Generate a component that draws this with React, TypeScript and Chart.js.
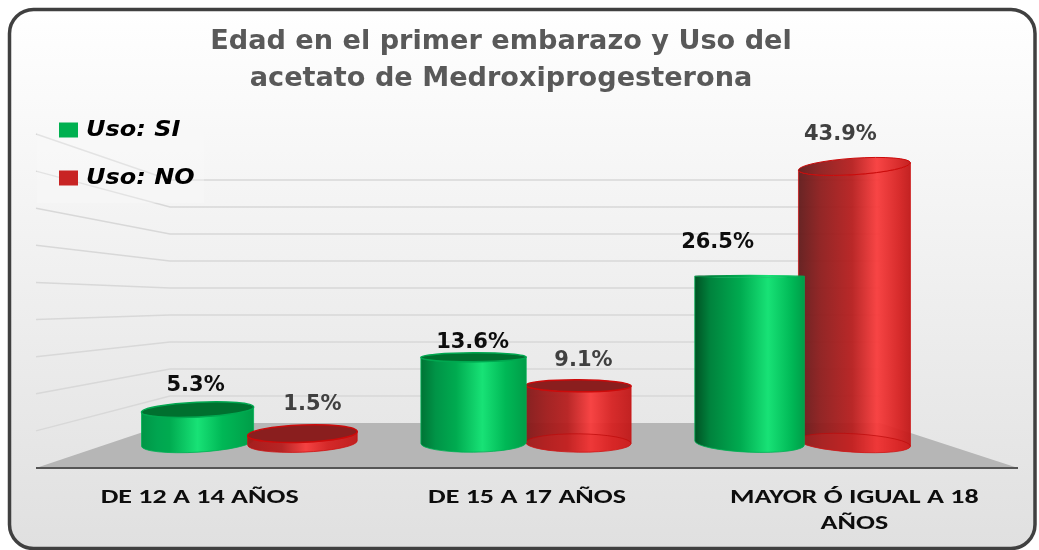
import React, { useEffect, useRef } from "react";
import { Chart, registerables } from "chart.js";

Chart.register(...registerables);

const categories: (string | string[])[] = ["DE 12 A 14 AÑOS", "DE 15 A 17 AÑOS", ["MAYOR Ó IGUAL A 18", "AÑOS"]];
const usoSi = [5.3, 13.6, 26.5];
const usoNo = [1.5, 9.1, 43.9];
const seriesNames = ["Uso: SI", "Uso: NO"];
const seriesColors = ["#00b050", "#c82424"];
const yTicksMax = 45;
const yTickStep = 5;
const titleLines = ["Edad en el primer embarazo y Uso del", "acetato de Medroxiprogesterona"];
// label nudges [dx, dy above bar top]; per dataset and category
const labelNudgeSi = [[-2, 25], [-1, 16], [-32, 35]];
const labelNudgeNo = [[10, 30], [5, 26], [-14, 33]];

const W = 1039, H = 550;
const BACK_BASE = 423, FRONT_BASE = 468, BACK_L = 170, BACK_R = 880, FRONT_L = 36, FRONT_R = 1018;
const EYE = 276;

function mix(a: number[], b: number[], t: number, alpha: number) {
  const c = a.map((v, i) => Math.round(v + (b[i] - v) * t));
  return `rgba(${c[0]},${c[1]},${c[2]},${alpha})`;
}

function gradientFor(ctx: CanvasRenderingContext2D, l: number, r: number, kind: number, t: number) {
  const g = ctx.createLinearGradient(l, 0, r, 0);
  const h = 0.5 + 0.2 * t;
  if (kind === 0) {
    g.addColorStop(0, mix([0, 150, 70], [0, 70, 30], t, 1));
    g.addColorStop(0.14, mix([0, 165, 80], [0, 125, 58], t, 1));
    g.addColorStop(h - 0.25, "#00ab50");
    g.addColorStop(h, "#18e276");
    g.addColorStop(h + 0.22, "#00b856");
    g.addColorStop(1, "#009d48");
  } else {
    g.addColorStop(0, mix([176, 24, 24], [98, 28, 28], t, 0.96));
    g.addColorStop(0.2, mix([186, 24, 24], [142, 28, 28], t, 0.95));
    g.addColorStop(h - 0.22, "rgba(182,28,28,0.94)");
    g.addColorStop(h, "rgba(248,58,58,0.94)");
    g.addColorStop(Math.min(0.95, h + 0.2), "rgba(214,32,32,0.94)");
    g.addColorStop(1, "rgba(192,26,26,0.96)");
  }
  return g;
}

function drawCylinder(ctx: CanvasRenderingContext2D, cx: number, topY: number, baseY: number, halfW: number, kind: number, chartCx: number, t: number) {
  const rx = halfW;
  const ryOf = (y: number) => Math.max(1.2, (y < EYE ? 0.075 : 0.055) * Math.abs(y - EYE));
  const tilt = (y: number) => ((cx - chartCx) * (y - EYE) / 36000) * (y < EYE ? 3.8 : 2.2) * Math.PI / 180;
  const ryT = ryOf(topY), ryB = ryOf(baseY);
  const aT = tilt(topY), aB = tilt(baseY);
  const edge = kind === 0 ? "#00a850" : "#cc0a0a";
  const fill = gradientFor(ctx, cx - rx, cx + rx, kind, t);

  ctx.save();
  ctx.beginPath();
  ctx.ellipse(cx, topY, rx, ryT, aT, Math.PI, 0, true);
  ctx.ellipse(cx, baseY, rx, ryB, aB, 0, Math.PI, false);
  ctx.closePath();
  ctx.fillStyle = fill;
  ctx.fill();
  ctx.lineWidth = 1;
  ctx.strokeStyle = kind === 0 ? "rgba(0,176,84,0.8)" : "rgba(204,16,16,0.75)";
  ctx.stroke();
  // translucent red cylinders show the base disc through the body
  if (kind === 1 && topY < baseY - 30) {
    ctx.beginPath();
    ctx.ellipse(cx, baseY, rx, ryB, aB, 0, Math.PI * 2);
    ctx.fillStyle = "rgba(225,36,36,0.3)";
    ctx.fill();
    ctx.beginPath();
    ctx.ellipse(cx, baseY, rx, ryB, aB, Math.PI, 0, false);
    ctx.strokeStyle = "rgba(190,10,10,0.7)";
    ctx.stroke();
  }
  // top face
  ctx.beginPath();
  ctx.ellipse(cx, topY, rx, ryT, aT, 0, Math.PI * 2);
  if (kind === 0) {
    ctx.fillStyle = topY > EYE + 10 ? "#00702f" : fill;
  } else {
    ctx.fillStyle = topY > EYE ? "#8a1e1e" : fill;
  }
  ctx.fill();
  ctx.strokeStyle = edge;
  ctx.lineWidth = topY > EYE ? 1.5 : 1;
  if (topY > EYE + 10 || kind === 1) ctx.stroke();
  ctx.restore();
}

function stretchedText(ctx: CanvasRenderingContext2D, text: string, x: number, y: number, sx: number) {
  ctx.save();
  ctx.translate(x, y);
  ctx.scale(sx, 1);
  ctx.fillText(text, 0, 0);
  ctx.restore();
}

const scene3d = {
  id: "scene3d",
  beforeDraw(chart: any) {
    const ctx: CanvasRenderingContext2D = chart.ctx;
    ctx.save();
    ctx.fillStyle = "#ffffff";
    ctx.fillRect(0, 0, W, H);
    const g = ctx.createLinearGradient(0, 10, 0, 548);
    g.addColorStop(0, "#ffffff");
    g.addColorStop(1, "#e0e0e0");
    ctx.beginPath();
    ctx.roundRect(9.5, 9.5, 1025.5, 539, 24);
    ctx.fillStyle = g;
    ctx.fill();
    ctx.lineWidth = 3.5;
    ctx.strokeStyle = "#404040";
    ctx.stroke();
    ctx.restore();
  },
  beforeDatasetsDraw(chart: any) {
    const ctx: CanvasRenderingContext2D = chart.ctx;
    const y = chart.scales.y;
    const base = y.getPixelForValue(0);
    const span = base - y.getPixelForValue(yTicksMax);
    const backK = (45 * 5.4) / span;
    const sideK = (FRONT_BASE - 134) / span;
    ctx.save();
    // floor
    ctx.beginPath();
    ctx.moveTo(FRONT_L, FRONT_BASE);
    ctx.lineTo(BACK_L, BACK_BASE);
    ctx.lineTo(BACK_R, BACK_BASE);
    ctx.lineTo(FRONT_R, FRONT_BASE);
    ctx.closePath();
    ctx.fillStyle = "#b6b6b6";
    ctx.fill();
    // front edge
    ctx.beginPath();
    ctx.moveTo(FRONT_L, FRONT_BASE);
    ctx.lineTo(FRONT_R, FRONT_BASE);
    ctx.strokeStyle = "#555555";
    ctx.lineWidth = 2;
    ctx.stroke();
    // walls
    ctx.strokeStyle = "#d8d8d8";
    ctx.lineWidth = 1.5;
    for (const t of y.ticks) {
      if (t.value === 0) continue;
      const p = base - y.getPixelForValue(t.value);
      const by = BACK_BASE - p * backK;
      const fy = FRONT_BASE - p * sideK;
      ctx.beginPath();
      ctx.moveTo(FRONT_L, fy);
      ctx.lineTo(BACK_L, by);
      ctx.lineTo(BACK_R, by);
      ctx.stroke();
    }
    ctx.restore();
  },
  beforeDatasetDraw() {
    return false;
  },
  afterDatasetsDraw(chart: any) {
    const ctx: CanvasRenderingContext2D = chart.ctx;
    const area = chart.chartArea;
    const chartCx = (area.left + area.right) / 2;
    const bars: any[] = [];
    chart.data.datasets.forEach((ds: any, di: number) => {
      chart.getDatasetMeta(di).data.forEach((el: any, i: number) => {
        bars.push({ el, di, i, value: ds.data[i], dist: Math.abs(el.x - chartCx) });
      });
    });
    bars.sort((a, b) => b.dist - a.dist);
    for (const b of bars) {
      const halfW = (104 + 0.025 * b.dist) / 2;
      const t = Math.max(0, Math.min(1, (b.el.x - 199) / 654));
      drawCylinder(ctx, b.el.x, b.el.y, b.el.base, halfW, b.di, chartCx, t);
    }
    // value labels
    ctx.save();
    ctx.textAlign = "center";
    ctx.textBaseline = "middle";
    ctx.font = "bold 21px 'DejaVu Sans'";
    for (const b of bars) {
      const n = (b.di === 0 ? labelNudgeSi : labelNudgeNo)[b.i];
      ctx.fillStyle = b.di === 0 ? "#0d0d0d" : "#404040";
      ctx.fillText(b.value.toFixed(1) + "%", b.el.x + n[0], b.el.y - n[1] + 1);
    }
    // category labels on the front edge of the floor
    const stretch = (FRONT_R - FRONT_L) / (area.right - area.left);
    const fCx = (FRONT_L + FRONT_R) / 2;
    const xs = chart.scales.x;
    ctx.font = "bold 20px Carlito, Lato, 'Open Sans'";
    ctx.fillStyle = "#0d0d0d";
    categories.forEach((c, i) => {
      const px = fCx + (xs.getPixelForValue(i) - chartCx) * stretch;
      const lines = Array.isArray(c) ? c : [c];
      lines.forEach((ln, k) => stretchedText(ctx, ln, px, 498 + k * 26, 1.4));
    });
    // title
    ctx.font = "bold 27px 'DejaVu Sans'";
    ctx.fillStyle = "#595959";
    titleLines.forEach((ln, k) => stretchedText(ctx, ln, 501, 42 + k * 37, 1.005));
    // legend
    ctx.fillStyle = "rgba(250,250,250,0.35)";
    ctx.fillRect(37, 107, 167, 96);
    ctx.textAlign = "left";
    ctx.font = "italic bold 22px 'DejaVu Sans'";
    seriesNames.forEach((name, k) => {
      const y = 130 + k * 48;
      ctx.fillStyle = seriesColors[k];
      ctx.fillRect(59, y - 7.5, 19, 15);
      ctx.fillStyle = "#000000";
      stretchedText(ctx, name, 86, y, 1.09);
    });
    ctx.restore();
  },
};

export default function App() {
  const ref = useRef<HTMLCanvasElement | null>(null);
  useEffect(() => {
    const chart = new Chart(ref.current as HTMLCanvasElement, {
      type: "bar",
      data: {
        labels: categories as any,
        datasets: [
          { label: seriesNames[0], data: usoSi, backgroundColor: seriesColors[0] },
          { label: seriesNames[1], data: usoNo, backgroundColor: seriesColors[1] },
        ],
      },
      options: {
        animation: false,
        responsive: false,
        devicePixelRatio: 1,
        layout: { padding: { left: 112, right: 99, top: 159.5, bottom: 107 } },
        datasets: { bar: { categoryPercentage: 0.76, barPercentage: 1 } },
        plugins: { legend: { display: false }, title: { display: false }, tooltip: { enabled: false } },
        scales: {
          x: { display: false },
          y: { display: false, min: 0, max: yTicksMax, ticks: { stepSize: yTickStep } },
        },
      } as any,
      plugins: [scene3d],
    });
    return () => chart.destroy();
  }, []);
  return (
    <div style={{ position: "fixed", left: 0, top: 0, width: W, height: H }}>
      <canvas ref={ref} width={W} height={H} style={{ display: "block" }} />
    </div>
  );
}
